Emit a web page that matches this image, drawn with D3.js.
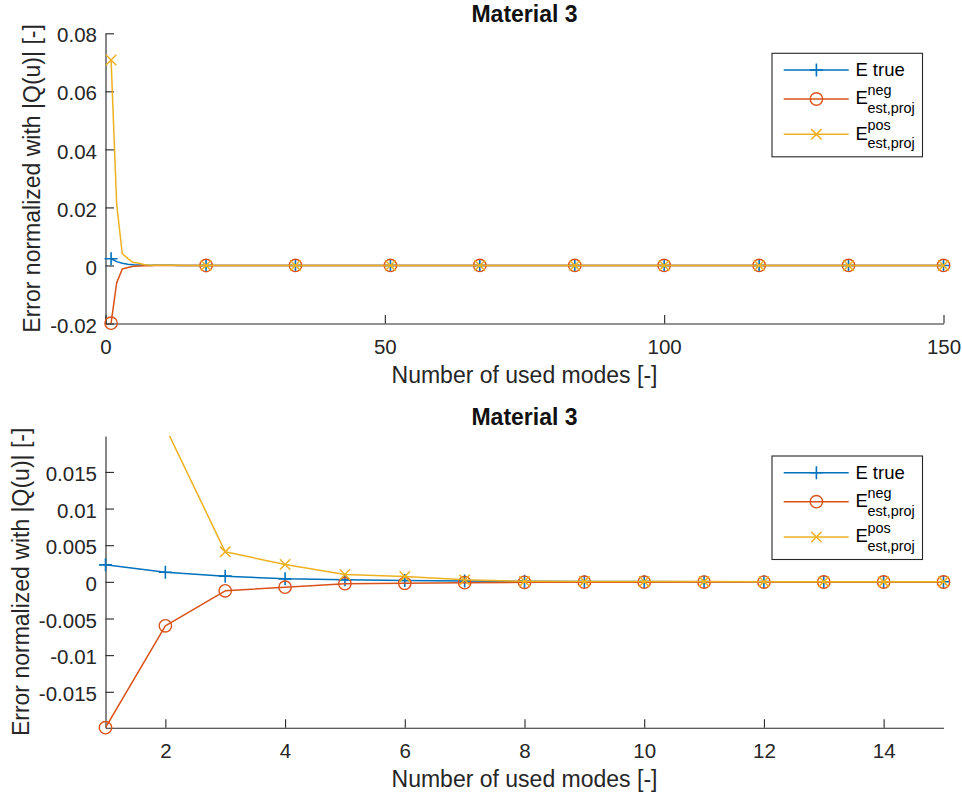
<!DOCTYPE html>
<html>
<head>
<meta charset="utf-8">
<script src="https://cdn.jsdelivr.net/npm/d3@7"></script>
<style>
  body { margin: 0; background: #fff; }
  svg { display: block; }
  text { font-family: "Liberation Sans", Arial, Helvetica, sans-serif; }
</style>
</head>
<body>
<svg id="fig" width="962" height="798"></svg>
<script>
// Number of used modes (dense at the start, sparse in the flat tail)
const modes = [1, 2, 3, 4, 5, 6, 7, 8, 9, 10, 11, 12, 13, 14, 15, 16, 17, 18,
               34, 51, 67, 84, 100, 117, 133, 150];

// Errors normalized with |Q(u)|
const eTrue = [0.00232, 0.00132, 0.00078, 0.00041, 0.00027, 0.00018, 0.00011, 0.00007,
               0.00005, 0.00004, 0.00003, 0.00003, 0.00002, 0.00002, 0.00002, 0.00001,
               0.00001, 0.00001, 0, 0, 0, 0, 0, 0, 0, 0];
const eNeg  = [-0.0199, -0.0060, -0.00123, -0.00073, -0.00025, -0.00020, -0.00011, -0.00006,
               -0.00005, -0.00004, -0.00003, -0.00003, -0.00002, -0.00002, -0.00002, -0.00001,
               -0.00001, -0.00001, 0, 0, 0, 0, 0, 0, 0, 0];
const ePos  = [0.0708, 0.0211, 0.0041, 0.00237, 0.00100, 0.00073, 0.00027, 0.00008,
               0.00006, 0.00005, 0.00004, 0.00003, 0.00003, 0.00002, 0.00002, 0.00001,
               0.00001, 0.00001, 0, 0, 0, 0, 0, 0, 0, 0];

// Modes that carry a marker in each panel
const fullMarkerModes = [1, 18, 34, 51, 67, 84, 100, 117, 133, 150];
const zoomMarkerModes = [1, 2, 3, 4, 5, 6, 7, 8, 9, 10, 11, 12, 13, 14, 15];

// Axis limits, ticks and tick labels
const fullXLim = [0, 150];
const fullYLim = [-0.02, 0.08];
const fullXTicks = [0, 50, 100, 150];
const fullXTickLabels = ["0", "50", "100", "150"];
const fullYTicks = [-0.02, 0, 0.02, 0.04, 0.06, 0.08];
const fullYTickLabels = ["-0.02", "0", "0.02", "0.04", "0.06", "0.08"];

const zoomXLim = [1, 15];
const zoomYLim = [-0.0199, 0.0199];
const zoomXTicks = [2, 4, 6, 8, 10, 12, 14];
const zoomXTickLabels = ["2", "4", "6", "8", "10", "12", "14"];
const zoomYTicks = [-0.015, -0.01, -0.005, 0, 0.005, 0.01, 0.015];
const zoomYTickLabels = ["-0.015", "-0.01", "-0.005", "0", "0.005", "0.01", "0.015"];

const titleText = "Material 3";
const xLabelText = "Number of used modes [-]";
const yLabelText = "Error normalized with |Q(u)| [-]";

const series = [
  { values: eTrue, color: "#0072BD", marker: "plus",   label: "E true", sup: null,  sub: null },
  { values: eNeg,  color: "#D95319", marker: "circle", label: "E",      sup: "neg", sub: "est,proj" },
  { values: ePos,  color: "#EDB120", marker: "cross",  label: "E",      sup: "pos", sub: "est,proj" }
];

const AX = "#262626";
const svg = d3.select("#fig");
const defs = svg.append("defs");

function drawMarker(sel, type, color) {
  if (type === "circle") {
    sel.append("circle").attr("r", 6.2)
      .attr("fill", "none").attr("stroke", color).attr("stroke-width", 1.4);
  } else if (type === "plus") {
    sel.append("path").attr("d", "M-6.5,0H6.5M0,-6.5V6.5")
      .attr("fill", "none").attr("stroke", color).attr("stroke-width", 1.6);
  } else {
    sel.append("path").attr("d", "M-5.2,-5.2L5.2,5.2M-5.2,5.2L5.2,-5.2")
      .attr("fill", "none").attr("stroke", color).attr("stroke-width", 1.5);
  }
}

function drawPanel(cfg, idx) {
  const { left, right, top, bottom } = cfg;
  const x = d3.scaleLinear().domain(cfg.xLim).range([left, right]);
  const y = d3.scaleLinear().domain(cfg.yLim).range([bottom, top]);
  const g = svg.append("g");

  const clipId = "clip" + idx;
  defs.append("clipPath").attr("id", clipId)
    .append("rect").attr("x", left).attr("y", top)
    .attr("width", right - left).attr("height", bottom - top);

  // axes (ticks point inward, no box)
  const xAxis = d3.axisBottom(x).tickValues(cfg.xTicks)
    .tickFormat((d, i) => cfg.xTickLabels[i])
    .tickSizeInner(-8.5).tickSizeOuter(0).tickPadding(16);
  const yAxis = d3.axisLeft(y).tickValues(cfg.yTicks)
    .tickFormat((d, i) => cfg.yTickLabels[i])
    .tickSizeInner(-8.5).tickSizeOuter(0).tickPadding(8.5);

  const gx = g.append("g").attr("transform", `translate(0,${bottom})`).call(xAxis);
  const gy = g.append("g").attr("transform", `translate(${left},0)`).call(yAxis);
  [gx, gy].forEach(a => {
    a.select(".domain").attr("stroke", AX).attr("stroke-width", 1.1);
    a.selectAll(".tick line").attr("stroke", AX).attr("stroke-width", 1.1);
    a.selectAll(".tick text").attr("fill", AX).attr("font-size", 20.5)
      .attr("font-family", '"Liberation Sans", Arial, Helvetica, sans-serif');
  });
  gy.selectAll(".tick text").attr("dy", "0.42em");

  // series lines and markers
  const line = d3.line().x(d => x(d.m)).y(d => y(d.v));
  series.forEach(s => {
    const pts = modes.map((m, i) => ({ m, v: s.values[i] }));
    g.append("path").datum(pts)
      .attr("clip-path", `url(#${clipId})`)
      .attr("d", line)
      .attr("fill", "none").attr("stroke", s.color).attr("stroke-width", 1.5)
      .attr("stroke-linejoin", "round");
    const yl = cfg.yLim, xl = cfg.xLim;
    const mk = pts.filter(p => cfg.markerModes.includes(p.m) &&
      p.v >= yl[0] - 1e-9 && p.v <= yl[1] + 1e-9 && p.m >= xl[0] && p.m <= xl[1]);
    g.selectAll(null).data(mk).enter().append("g")
      .attr("transform", d => `translate(${x(d.m)},${y(d.v)})`)
      .each(function () { drawMarker(d3.select(this), s.marker, s.color); });
  });

  // title and axis labels
  g.append("text").attr("x", (left + right) / 2).attr("y", top - 11)
    .attr("text-anchor", "middle").attr("font-size", 23).attr("font-weight", "bold")
    .attr("fill", "#111").text(titleText);
  g.append("text").attr("x", (left + right) / 2).attr("y", bottom + 59.5)
    .attr("text-anchor", "middle").attr("font-size", 23).attr("fill", AX).text(xLabelText);
  g.append("text")
    .attr("transform", `translate(${cfg.yLabelX},${(top + bottom) / 2}) rotate(-90)`)
    .attr("text-anchor", "middle").attr("font-size", 23).attr("fill", AX).text(yLabelText);

  // legend
  const lw = 150.5, lh = 103.5;
  const lx = right - 21 - lw, ly = top + 20;
  const lg = g.append("g").attr("transform", `translate(${lx},${ly})`);
  lg.append("rect").attr("x", 0).attr("y", 0).attr("width", lw).attr("height", lh)
    .attr("fill", "#fff").attr("stroke", AX).attr("stroke-width", 1.1);
  const rowY = [16.7, 45.7, 81];
  series.forEach((s, i) => {
    const ry = rowY[i];
    lg.append("line").attr("x1", 11.7).attr("x2", 76.7).attr("y1", ry).attr("y2", ry)
      .attr("stroke", s.color).attr("stroke-width", 1.5);
    const mg = lg.append("g").attr("transform", `translate(44.4,${ry})`);
    drawMarker(mg, s.marker, s.color);
    if (!s.sup) {
      lg.append("text").attr("x", 83.4).attr("y", ry + 6.5)
        .attr("font-size", 18.5).attr("fill", "#000").text(s.label);
    } else {
      lg.append("text").attr("x", 83.4).attr("y", ry + 5.3)
        .attr("font-size", 18.5).attr("fill", "#000").text(s.label);
      lg.append("text").attr("x", 95.6).attr("y", ry - 4.2)
        .attr("font-size", 14.4).attr("fill", "#000").text(s.sup);
      lg.append("text").attr("x", 95.6).attr("y", ry + 14.2)
        .attr("font-size", 14.4).attr("fill", "#000").text(s.sub);
    }
  });
}

drawPanel({
  left: 105.5, right: 943.5, top: 33.3, bottom: 323.5,
  xLim: fullXLim, yLim: fullYLim,
  xTicks: fullXTicks, xTickLabels: fullXTickLabels,
  yTicks: fullYTicks, yTickLabels: fullYTickLabels,
  markerModes: fullMarkerModes, yLabelX: 40
}, 0);

drawPanel({
  left: 105.5, right: 943.5, top: 436, bottom: 727.7,
  xLim: zoomXLim, yLim: zoomYLim,
  xTicks: zoomXTicks, xTickLabels: zoomXTickLabels,
  yTicks: zoomYTicks, yTickLabels: zoomYTickLabels,
  markerModes: zoomMarkerModes, yLabelX: 28.5
}, 1);
</script>
</body>
</html>
